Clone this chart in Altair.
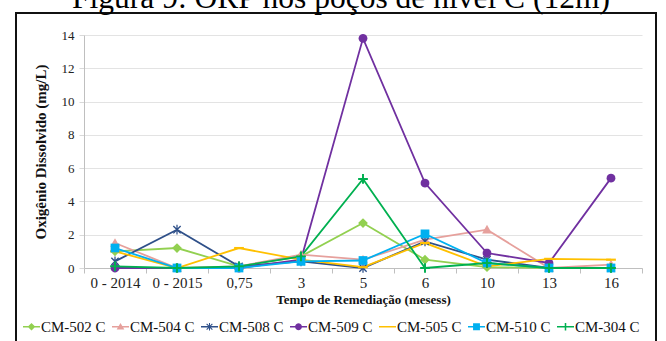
import math
import altair as alt
import pandas as pd

# ---- data -------------------------------------------------------------
categories = ["0 - 2014", "0 - 2015", "0,75", "3", "5", "6", "10", "13", "16"]

series = ["CM-502 C", "CM-504 C", "CM-508 C", "CM-509 C", "CM-505 C", "CM-510 C", "CM-304 C"]

cm502 = [1.0, 1.2, 0.1, 0.7, 2.7, 0.5, 0.05, 0.0, 0.0]
cm504 = [1.5, 0.0, 0.1, 0.8, 0.5, 1.7, 2.3, 0.0, 0.2]
cm508 = [0.4, 2.3, 0.1, 0.4, 0.0, 1.6, 0.5, 0.0, 0.0]
cm509 = [0.0, 0.0, 0.0, 0.5, 13.8, 5.1, 0.9, 0.3, 5.4]
cm505 = [1.0, 0.0, 1.2, 0.5, 0.05, 1.5, 0.1, 0.55, 0.5]
cm510 = [1.2, 0.0, 0.0, 0.4, 0.45, 2.05, 0.3, 0.0, 0.0]
cm304 = [0.1, 0.0, 0.1, 0.7, 5.35, 0.0, 0.3, 0.0, 0.0]

values_by_series = [cm502, cm504, cm508, cm509, cm505, cm510, cm304]

title_text = "Figura 9: ORP nos poços de nível C (12m)"
x_title = "Tempo de Remediação (mesess)"
y_title = "Oxigênio Dissolvido (mg/L)"

# ---- styling ------------------------------------------------------------
colors = ["#92D050", "#E6A09C", "#2F5089", "#7030A0", "#FFC000", "#00B0F0", "#00B050"]
SERIF = "Liberation Serif"


def poly(points, s=1.0):
    """Closed SVG polygon, always with the same winding so shapes union."""
    pts = [(x * s, y * s) for x, y in points]
    area = sum(x1 * y2 - x2 * y1 for (x1, y1), (x2, y2) in zip(pts, pts[1:] + pts[:1]))
    if area < 0:
        pts = pts[::-1]
    return "M" + "L".join(f"{x:.3f},{y:.3f}" for x, y in pts) + "Z"


def rect(x0, y0, x1, y1):
    return [(x0, y0), (x1, y0), (x1, y1), (x0, y1)]


circle = [(0.9 * math.cos(2 * math.pi * k / 20), 0.9 * math.sin(2 * math.pi * k / 20)) for k in range(20)]

markers = [
    [[(0, -1), (1, 0), (0, 1), (-1, 0)]],                                   # diamond
    [[(0, -1), (1, 0.75), (-1, 0.75)]],                                     # triangle
    [[(-0.85, -0.65), (-0.65, -0.85), (0.85, 0.65), (0.65, 0.85)],
     [(0.85, -0.65), (0.65, -0.85), (-0.85, 0.65), (-0.65, 0.85)],
     rect(-0.13, -1, 0.13, 1)],                                             # asterisk
    [circle],                                                               # circle
    [rect(-1, -0.22, 1, 0.22)],                                             # dash
    [rect(-0.9, -0.9, 0.9, 0.9)],                                           # square
    [rect(-1, -0.2, 1, 0.2), rect(-0.2, -1, 0.2, 1)],                       # plus
]

point_paths = ["".join(poly(p) for p in m) for m in markers]
legend_paths = [poly(rect(-1, -0.1, 1, 0.1)) + "".join(poly(p, 0.45) for p in m) for m in markers]

# ---- long table ---------------------------------------------------------
rows = []
for name, vals in zip(series, values_by_series):
    for cat, v in zip(categories, vals):
        rows.append({"serie": name, "tempo": cat, "valor": v})
df = pd.DataFrame(rows)

W, H = 558, 233
PAD = {"left": 84, "top": 35, "right": 24, "bottom": 73}

x_enc = alt.X(
    "tempo:N",
    sort=categories,
    bandPosition=0.5,
    scale=alt.Scale(type="band", paddingInner=0, paddingOuter=0),
    axis=alt.Axis(
        title=x_title,
        labelAngle=0,
        tickBand="extent",
        tickSize=5,
        tickColor="#BFBFBF",
        domainColor="#BFBFBF",
        labelFont=SERIF,
        labelFontSize=15,
        labelColor="#222222",
        labelPadding=2,
        titleFont=SERIF,
        titleFontSize=13,
        titleFontWeight="bold",
        titleColor="#111111",
        titleY=25,
        titleBaseline="top",
        grid=False,
    ),
)

y_enc = alt.Y(
    "valor:Q",
    scale=alt.Scale(domain=[0, 14], nice=False, zero=True),
    axis=alt.Axis(
        title=y_title,
        values=list(range(0, 15, 2)),
        tickSize=5,
        tickColor="#D9D9D9",
        domainColor="#BFBFBF",
        gridColor="#E3E3E3",
        labelFont=SERIF,
        labelFontSize=13,
        labelColor="#222222",
        labelPadding=5,
        titleFont=SERIF,
        titleFontSize=15,
        titleFontWeight="bold",
        titleColor="#111111",
        titleX=-44,
        titleY=H / 2,
        titleAlign="center",
        titleBaseline="middle",
    ),
)

legend_style = dict(
    title=None,
    orient="none",
    direction="horizontal",
    columns=7,
    legendX=-61,
    legendY=283,
    symbolSize=289,
    symbolStrokeWidth=0,
    symbolOpacity=1,
    labelFont=SERIF,
    labelFontSize=15,
    labelColor="#111111",
    labelOffset=1,
    columnPadding=6,
)

color_scale = alt.Scale(domain=series, range=colors)

base = alt.Chart(df)

lines = base.mark_line(strokeWidth=1.8).encode(
    x=x_enc, y=y_enc,
    color=alt.Color("serie:N", sort=series, scale=color_scale, legend=None),
)

points = base.mark_point(filled=True, size=95, opacity=1, strokeWidth=0).encode(
    x=x_enc,
    y=y_enc,
    color=alt.Color("serie:N", sort=series, scale=color_scale, legend=None),
    shape=alt.Shape("serie:N", sort=series, scale=alt.Scale(domain=series, range=point_paths), legend=None),
)

# invisible layer that only carries the legend (line + marker symbols)
legend_layer = base.mark_point(filled=True, opacity=0, size=10).encode(
    x=x_enc,
    y=y_enc,
    color=alt.Color("serie:N", sort=series, scale=color_scale, legend=alt.Legend(**legend_style)),
    shape=alt.Shape(
        "serie:N",
        sort=series,
        scale=alt.Scale(domain=series, range=legend_paths),
        legend=alt.Legend(**legend_style),
    ),
)

# outer box; its bottom edge runs past the lower border of the canvas
frame = alt.Chart(pd.DataFrame({"k": [0]})).mark_rect(
    filled=False, stroke="#111111", strokeWidth=2
).encode(
    x=alt.value(16 - PAD["left"]),
    x2=alt.value(656 - PAD["left"]),
    y=alt.value(13 - PAD["top"]),
    y2=alt.value(H + PAD["bottom"] + 20),
)

title = alt.Chart(pd.DataFrame({"t": [title_text]})).mark_text(
    font=SERIF, fontSize=31.5, color="#000000", align="center", baseline="alphabetic"
).encode(
    text="t:N",
    x=alt.value(341 - PAD["left"]),
    y=alt.value(8 - PAD["top"]),
)

chart = (
    alt.layer(lines, points, legend_layer, frame, title)
    .resolve_scale(shape="independent", color="independent")
    .properties(width=W, height=H, padding=PAD, autosize=alt.AutoSizeParams(type="none"), background="white")
    .configure_view(stroke=None)
)

chart.save("out.html", embed_options={"renderer": "svg", "actions": False})
